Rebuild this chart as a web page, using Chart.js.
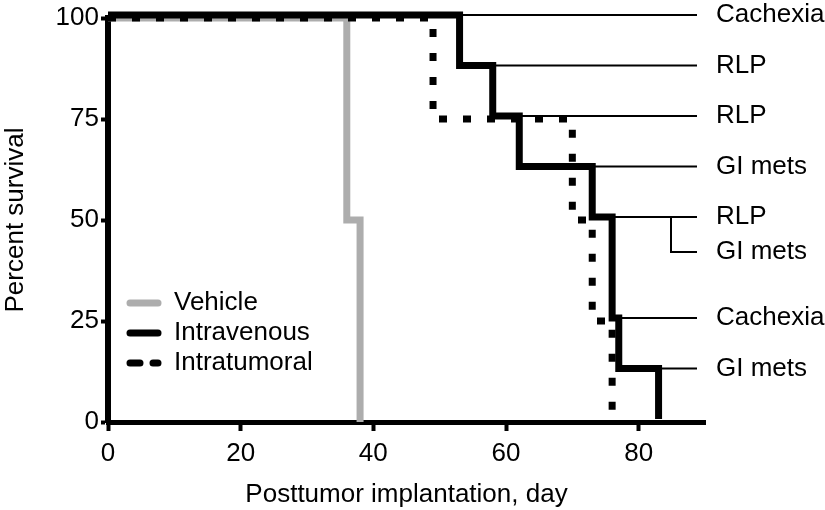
<!DOCTYPE html>
<html>
<head>
<meta charset="utf-8">
<script src="https://cdn.jsdelivr.net/npm/chart.js@4"></script>
<style>
  html, body { margin: 0; padding: 0; background: #fff; }
</style>
</head>
<body>
<canvas id="canvas" width="825" height="510"></canvas>
<script>
const vehicleDays = [0, 36, 38]
const vehicleSurvival = [100, 50, 0]
const ivDays = [0, 53, 58, 62, 73, 76, 77, 83]
const ivSurvival = [100, 87.5, 75, 62.5, 50, 25, 12.5, 0]
const itDays = [0, 49, 70, 73, 76]
const itSurvival = [100, 75, 50, 25, 0]

// cause of each intravenous death, level = survival just before it
const causeDays = [53, 58, 62, 73, 76, 76, 77, 83]
const causeLevels = [100, 87.5, 75, 62.5, 50, 50, 25, 12.5]
const causeLabels = ['Cachexia', 'RLP', 'RLP', 'GI mets', 'RLP', 'GI mets', 'Cachexia', 'GI mets']

const seriesNames = ['Vehicle', 'Intravenous', 'Intratumoral']
const xTicks = [0, 20, 40, 60, 80]
const yTicks = [0, 25, 50, 75, 100]

const FONT = '"Liberation Sans", Arial, Helvetica, sans-serif'
const FONT_SIZE = 26
const GRAY = '#adadad'
const ivShift = -3

Chart.defaults.font.family = FONT
Chart.defaults.color = '#000'

const toPoints = (days, vals) => days.map((d, i) => ({ x: d, y: vals[i] }))

// intravenous curve sits a few px above the others so overlaps stay visible
const shiftPlugin = {
    id: 'shift',
    beforeDatasetDraw(chart, args) {
        if (chart.data.datasets[args.index].label !== 'Intravenous') return
        chart.ctx.save()
        chart.ctx.translate(0, ivShift)
    },
    afterDatasetDraw(chart, args) {
        if (chart.data.datasets[args.index].label !== 'Intravenous') return
        chart.ctx.restore()
    }
}

const causePlugin = {
    id: 'causes',
    afterDatasetsDraw(chart) {
        const { ctx, chartArea, scales } = chart
        const lineEnd = chartArea.right - 8
        const bracketX = chartArea.right - 34
        ctx.save()
        ctx.strokeStyle = '#000'
        ctx.fillStyle = '#000'
        ctx.lineWidth = 2
        ctx.font = FONT_SIZE + 'px ' + FONT
        ctx.textAlign = 'left'
        ctx.textBaseline = 'middle'
        causeDays.forEach((d, i) => {
            const py = scales.y.getPixelForValue(causeLevels[i]) + ivShift
            let ty = py
            ctx.beginPath()
            if (i > 0 && causeDays[i - 1] === d) {
                ty = py + 35
                ctx.moveTo(bracketX, py)
                ctx.lineTo(bracketX, ty)
                ctx.lineTo(lineEnd, ty)
            } else {
                ctx.moveTo(scales.x.getPixelForValue(d), py)
                ctx.lineTo(lineEnd, py)
            }
            ctx.stroke()
            ctx.fillText(causeLabels[i], chartArea.right + 11, ty)
        })
        ctx.restore()
    }
}

const legendPlugin = {
    id: 'innerLegend',
    afterDraw(chart) {
        const { ctx, chartArea } = chart
        const x0 = chartArea.left + 22
        const x1 = chartArea.left + 50
        const rows = [chartArea.bottom - 119, chartArea.bottom - 89, chartArea.bottom - 59]
        ctx.save()
        ctx.lineWidth = 7
        ctx.lineCap = 'round'
        rows.forEach((ry, i) => {
            ctx.beginPath()
            ctx.strokeStyle = i === 0 ? GRAY : '#000'
            ctx.setLineDash(i === 2 ? [10, 13] : [])
            ctx.moveTo(x0, ry)
            ctx.lineTo(x1, ry)
            ctx.stroke()
        })
        ctx.setLineDash([])
        ctx.fillStyle = '#000'
        ctx.font = FONT_SIZE + 'px ' + FONT
        ctx.textBaseline = 'middle'
        rows.forEach((ry, i) => ctx.fillText(seriesNames[i], chartArea.left + 66, ry))
        ctx.restore()
    }
}

const axisGrid = len => ({
    drawOnChartArea: false,
    drawTicks: true,
    tickLength: len,
    tickWidth: 4,
    tickColor: '#000'
})

const ctx = document.querySelector('#canvas').getContext('2d')
const chart = new Chart(ctx, {
    type: 'line',
    data: {
        datasets: [{
            label: 'Intratumoral',
            data: toPoints(itDays, itSurvival),
            borderColor: '#000',
            borderWidth: 7,
            borderDash: [8, 16],
            borderCapStyle: 'butt',
            stepped: true,
            pointRadius: 0,
            clip: false
        }, {
            label: 'Intravenous',
            data: toPoints(ivDays, ivSurvival),
            borderColor: '#000',
            borderWidth: 7,
            borderJoinStyle: 'miter',
            stepped: true,
            pointRadius: 0,
            clip: false
        }, {
            label: 'Vehicle',
            data: toPoints(vehicleDays, vehicleSurvival),
            borderColor: GRAY,
            borderWidth: 7,
            borderJoinStyle: 'miter',
            stepped: true,
            pointRadius: 0,
            clip: false
        }]
    },
    options: {
        responsive: false,
        animation: false,
        devicePixelRatio: 1,
        layout: { padding: { top: 18, right: 120, bottom: 0, left: 0 } },
        plugins: {
            legend: { display: false },
            tooltip: { enabled: false }
        },
        scales: {
            x: {
                type: 'linear',
                min: 0,
                max: 90,
                afterBuildTicks: s => { s.ticks = xTicks.map(v => ({ value: v })) },
                afterFit: s => { s.height = 88 },
                ticks: { font: { size: FONT_SIZE }, padding: 7, maxRotation: 0 },
                grid: axisGrid(9),
                border: { display: true, color: '#000', width: 5 },
                title: {
                    display: true,
                    text: 'Posttumor implantation, day',
                    font: { size: FONT_SIZE },
                    padding: { top: 0, bottom: 0 }
                }
            },
            y: {
                type: 'linear',
                min: 0,
                max: 100,
                afterBuildTicks: s => { s.ticks = yTicks.map(v => ({ value: v })) },
                afterFit: s => { s.width = 108 },
                ticks: { font: { size: FONT_SIZE }, padding: 2 },
                grid: axisGrid(7),
                border: { display: true, color: '#000', width: 6 },
                title: {
                    display: true,
                    text: 'Percent survival',
                    font: { size: FONT_SIZE },
                    padding: 0
                }
            }
        }
    },
    plugins: [shiftPlugin, causePlugin, legendPlugin]
})
</script>
</body>
</html>
